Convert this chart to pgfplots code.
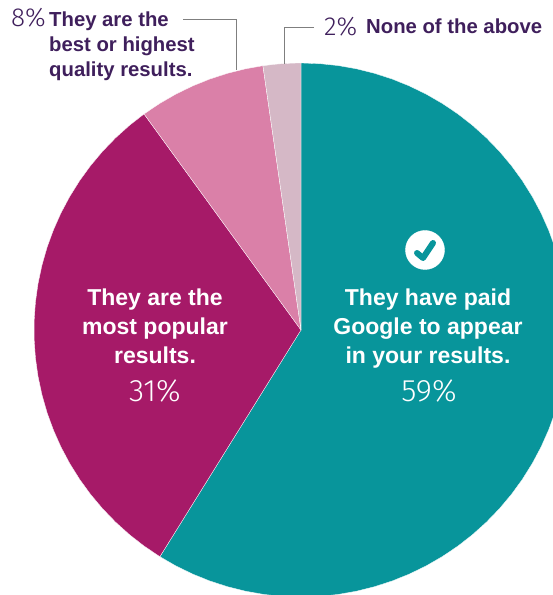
\documentclass[border=0pt]{standalone}
\usepackage{fontspec}
\setmainfont{Liberation Sans}
\newfontfamily\lightf{Fira Sans Light}
\usepackage{pgfplots}
\pgfplotsset{compat=1.18}
\definecolor{teal1}{HTML}{08959B}
\definecolor{mag1}{HTML}{A61A68}
\definecolor{pink1}{HTML}{DA80A8}
\definecolor{pale1}{HTML}{D5B8C6}
\definecolor{ink}{HTML}{3F1F5C}
\definecolor{lead}{HTML}{7F7F7F}
\newcommand{\bigb}{\fontsize{23}{29}\selectfont\bfseries}
\newcommand{\smallb}{\fontsize{20.3}{25}\selectfont\bfseries}
\newcommand{\pct}{\lightf\fontsize{31}{31}\selectfont}
\begin{document}
\begin{tikzpicture}
\begin{axis}[
    name=pie,
    width=553pt, height=595pt,
    scale only axis,
    hide axis,
    xmin=-301, xmax=252,
    ymin=-265, ymax=330,
    clip=true,
    clip marker paths=true,
]
% shares 59, 31, 8, 2 percent: wedges in polar coordinates, clockwise from the top
% 59%
\addplot[data cs=polar, fill=teal1, draw=white, line width=0.3pt] coordinates {
(0,0) (90,267) (86,267) (82,267) (78,267) (74,267) (70,267) (66,267) (62,267)
(58,267) (54,267) (50,267) (46,267) (42,267) (38,267) (34,267) (30,267) (26,267)
(22,267) (18,267) (14,267) (10,267) (6,267) (2,267) (-2,267) (-6,267) (-10,267)
(-14,267) (-18,267) (-22,267) (-26,267) (-30,267) (-34,267) (-38,267) (-42,267)
(-46,267) (-50,267) (-54,267) (-58,267) (-62,267) (-66,267) (-70,267) (-74,267)
(-78,267) (-82,267) (-86,267) (-90,267) (-94,267) (-98,267) (-102,267) (-106,267)
(-110,267) (-114,267) (-118,267) (-121.9,267)
} -- cycle;
% 31%
\addplot[data cs=polar, fill=mag1, draw=white, line width=0.3pt] coordinates {
(0,0) (-121.9,267) (-126,267) (-130,267) (-134,267) (-138,267) (-142,267) (-146,267)
(-150,267) (-154,267) (-158,267) (-162,267) (-166,267) (-170,267) (-174,267) (-178,267)
(-182,267) (-186,267) (-190,267) (-194,267) (-198,267) (-202,267) (-206,267) (-210,267)
(-214,267) (-218,267) (-222,267) (-226,267) (-230,267) (-234,267)
} -- cycle;
% 8%
\addplot[data cs=polar, fill=pink1, draw=white, line width=0.3pt] coordinates {
(0,0) (126,267) (122,267) (118,267) (114,267) (110,267) (106,267) (102,267) (98.2,267)
} -- cycle;
% 2%
\addplot[data cs=polar, fill=pale1, draw=white, line width=0.3pt] coordinates {
(0,0) (98.2,267) (96,267) (94,267) (92,267) (90,267)
} -- cycle;

% leader lines
\addplot[lead, line width=0.9pt] coordinates {(-118,311) (-65,311) (-65,260)};
\addplot[lead, line width=0.9pt] coordinates {(13,303) (-17,303) (-17,266)};

% check icon
\addplot[only marks, mark=*, mark size=19.5pt, white] coordinates {(124,80)};
\addplot[teal1, line width=6pt, line cap=round, line join=round]
    coordinates {(116,77) (122,72) (132,87)};

% labels
\node[white, anchor=base] at (axis cs:127,24.5) {\bigb They have paid};
\node[white, anchor=base] at (axis cs:127,-4.5) {\bigb Google to appear};
\node[white, anchor=base] at (axis cs:127,-33.5) {\bigb in your results.};
\node[white, anchor=base] at (axis cs:128,-71.5) {\pct 59\%};
\node[white, anchor=base] at (axis cs:-146,24.5) {\bigb They are the};
\node[white, anchor=base] at (axis cs:-146,-4.5) {\bigb most popular};
\node[white, anchor=base] at (axis cs:-146,-33.5) {\bigb results.};
\node[white, anchor=base] at (axis cs:-146,-71.5) {\pct 31\%};

\node[ink, anchor=base east, inner sep=0pt] at (axis cs:-255,303) {\pct\fontsize{26}{26}\selectfont 8\%};
\node[ink, anchor=base west, inner sep=0pt] at (axis cs:-252,303) {\smallb They are the};
\node[ink, anchor=base west, inner sep=0pt] at (axis cs:-252,278) {\smallb best or highest};
\node[ink, anchor=base west, inner sep=0pt] at (axis cs:-252,253) {\smallb quality results.};
\node[ink, anchor=base west, inner sep=0pt] at (axis cs:23,294) {\pct\fontsize{26}{26}\selectfont 2\%};
\node[ink, anchor=base west, inner sep=0pt] at (axis cs:65,296) {\smallb None of the above};
\end{axis}
\pgfresetboundingbox
\path[use as bounding box] (pie.south west) rectangle (pie.north east);
\end{tikzpicture}
\end{document}
